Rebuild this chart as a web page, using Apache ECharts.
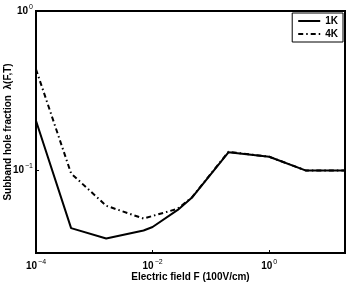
<!DOCTYPE html>
<html>
<head>
<meta charset="utf-8">
<script src="https://cdn.jsdelivr.net/npm/echarts@6/dist/echarts.min.js"></script>
<style>
  html, body { margin: 0; padding: 0; background: #fff; }
  #main { width: 348px; height: 284px; }
</style>
</head>
<body>
<div id="main"></div>
<script>
// values
var field1K = [1e-4, 4e-4, 1.6e-3, 7e-3, 1e-2, 2.7e-2, 4.7e-2, 0.2, 1, 4.3, 20];
var frac1K = [0.204, 0.043, 0.037, 0.0416, 0.0437, 0.056, 0.0667, 0.129, 0.121, 0.099, 0.099];
var field4K = [1e-4, 4e-4, 1.6e-3, 7e-3, 2.7e-2, 4.7e-2, 0.2, 1, 4.3, 20];
var frac4K = [0.43, 0.095, 0.0595, 0.0494, 0.057, 0.067, 0.13, 0.121, 0.099, 0.099];
var xTicks = [1e-4, 1e-2, 1];
var yTicks = [0.1, 1];

function pairs(xs, ys) {
  return xs.map(function (x, i) { return [x, ys[i]]; });
}

// 10^n label with superscript
function powLabel(v) {
  var e = Math.round(Math.log10(v));
  var s = e < 0 ? '\u2212' + (-e) : String(e);
  return '{b|10}{s|' + s + '}';
}
var richLabel = {
  b: { fontSize: 10, fontWeight: 'bold', fontFamily: 'Liberation Sans', color: '#000' },
  s: { fontSize: 7, fontFamily: 'Liberation Sans', color: '#000', verticalAlign: 'top', padding: [0, 0, 7, 1] }
};

var myChart = echarts.init(document.getElementById('main'), null, { renderer: 'canvas' });

var option = {
  animation: false,
  backgroundColor: '#fff',
  textStyle: { fontFamily: 'Liberation Sans' },
  grid: {
    left: 36, right: 3, top: 11, bottom: 31,
    containLabel: false, outerBoundsMode: 'none',
    show: true, borderColor: '#000', borderWidth: 2, backgroundColor: 'transparent'
  },
  legend: {
    right: 5, top: 13,
    orient: 'vertical',
    borderColor: '#000', borderWidth: 1,
    padding: [3, 5, 3, 5],
    itemGap: 3,
    itemWidth: 22, itemHeight: 10,
    itemStyle: { opacity: 0 },
    textStyle: { fontSize: 10, fontWeight: 'bold', color: '#000' },
    data: ['1K', '4K']
  },
  xAxis: {
    type: 'log', logBase: 10, min: 1e-4, max: 20,
    name: 'Electric field F (100V/cm)',
    nameLocation: 'middle', nameGap: 19, nameMoveOverlap: false,
    nameTextStyle: { fontSize: 10, fontWeight: 'bold', color: '#000' },
    axisLine: { show: false },
    axisTick: { inside: true, length: 3, customValues: xTicks, lineStyle: { color: '#000' } },
    axisLabel: {
      customValues: xTicks, margin: 6,
      formatter: powLabel, rich: richLabel
    },
    splitLine: { show: false }
  },
  yAxis: {
    type: 'log', logBase: 10, min: 0.03, max: 1,
    name: 'Subband hole fraction  \u03bb(F,T)',
    nameLocation: 'middle', nameGap: 23, nameMoveOverlap: false,
    nameTextStyle: { fontSize: 10, fontWeight: 'bold', color: '#000' },
    axisLine: { show: false },
    axisTick: { inside: true, length: 3, customValues: yTicks, lineStyle: { color: '#000' } },
    axisLabel: {
      customValues: yTicks, margin: 3,
      formatter: powLabel, rich: richLabel
    },
    splitLine: { show: false }
  },
  series: [
    {
      name: '1K', type: 'line', symbol: 'none',
      data: pairs(field1K, frac1K),
      lineStyle: { color: '#000', width: 2 },
      itemStyle: { color: '#000' }
    },
    {
      name: '4K', type: 'line', symbol: 'none',
      data: pairs(field4K, frac4K),
      lineStyle: { color: '#000', width: 2, type: [5, 3, 1.5, 3] },
      itemStyle: { color: '#000' }
    }
  ]
};

myChart.setOption(option);
</script>
</body>
</html>
